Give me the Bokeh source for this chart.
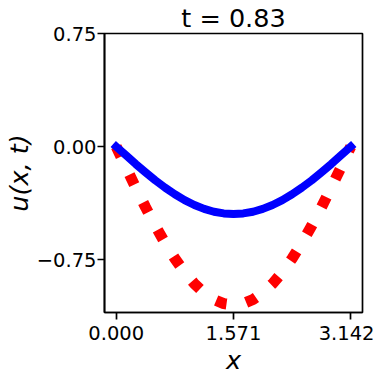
from bokeh.plotting import figure
from bokeh.models import Range1d, FixedTicker
from bokeh.embed import file_html
from bokeh.resources import INLINE

# data
x_vals = [0.0, 0.131, 0.262, 0.393, 0.524, 0.654, 0.785, 0.916, 1.047, 1.178, 1.309, 1.440, 1.571,
          1.702, 1.833, 1.963, 2.094, 2.225, 2.356, 2.487, 2.618, 2.749, 2.880, 3.011, 3.142]
u_pred = [0.0, -0.058, -0.116, -0.171, -0.224, -0.272, -0.316, -0.355, -0.387, -0.413, -0.432, -0.443, -0.447,
          -0.443, -0.432, -0.413, -0.387, -0.355, -0.316, -0.272, -0.224, -0.171, -0.116, -0.058, 0.0]
u_exact = [0.0, -0.137, -0.272, -0.402, -0.525, -0.639, -0.742, -0.833, -0.909, -0.970, -1.014, -1.041, -1.050,
           -1.041, -1.014, -0.970, -0.909, -0.833, -0.742, -0.639, -0.525, -0.402, -0.272, -0.137, 0.0]

x_ticks = [0.0, 1.5707963, 3.1415927]
x_tick_labels = ["0.000", "1.571", "3.142"]
y_ticks = [-0.75, 0.0, 0.75]
y_tick_labels = ["\u22120.75", "0.00", "0.75"]
title_text = "t = 0.83"
x_label = "x"
y_label = "u(x, t)"

FONT = "DejaVu Sans"

p = figure(frame_width=258, frame_height=279, output_backend="svg", toolbar_location=None,
           x_range=Range1d(-0.157, 3.299), y_range=Range1d(-1.10, 0.75),
           min_border_left=90, min_border_right=12, min_border_top=20, min_border_bottom=56)
p.title.text = title_text
p.title.text_font = FONT
p.title.text_font_size = "25.5px"
p.title.text_font_style = "normal"
p.title.text_color = "black"
p.title.align = "center"
p.title.standoff = 1
p.title.offset = 0

p.background_fill_color = "white"
p.border_fill_color = "white"
p.outline_line_color = "black"
p.outline_line_width = 1.7
p.grid.visible = False

p.line(x_vals, u_exact, line_color="#ff0000", line_width=11, line_dash="11 20", line_cap="butt")
p.line(x_vals, u_pred, line_color="#0000ff", line_width=8, line_cap="square", line_join="round")

for ax in (p.xaxis[0], p.yaxis[0]):
    ax.axis_line_color = "black"
    ax.axis_line_width = 1.7
    ax.major_tick_line_color = "black"
    ax.major_tick_line_width = 1.7
    ax.major_tick_out = 7
    ax.major_tick_in = 0
    ax.minor_tick_line_color = None
    ax.major_label_text_font = FONT
    ax.major_label_text_font_size = "19.5px"
    ax.major_label_text_color = "black"
    ax.axis_label_text_font = FONT
    ax.axis_label_text_font_size = "25.5px"
    ax.axis_label_text_font_style = "italic"
    ax.axis_label_text_color = "black"

p.xaxis[0].ticker = FixedTicker(ticks=x_ticks)
p.xaxis[0].major_label_overrides = dict(zip(x_ticks, x_tick_labels))
p.xaxis[0].axis_label = x_label
p.xaxis[0].major_label_standoff = 6
p.xaxis[0].axis_label_standoff = 2

p.yaxis[0].ticker = FixedTicker(ticks=y_ticks)
p.yaxis[0].major_label_overrides = dict(zip(y_ticks, y_tick_labels))
p.yaxis[0].axis_label = y_label
p.yaxis[0].major_label_standoff = 1
p.yaxis[0].axis_label_standoff = 0

open("out.html", "w").write(file_html(p, INLINE))
